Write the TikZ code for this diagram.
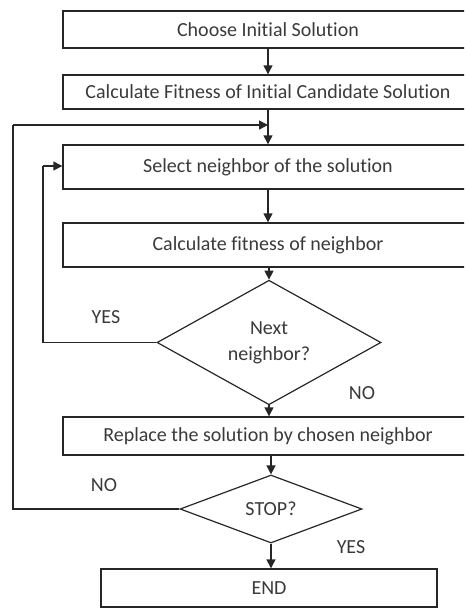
\documentclass[tikz,border=0pt]{standalone}
\usepackage{fontspec}
\setmainfont{Carlito}[Ligatures=NoCommon]
\usetikzlibrary{shapes.geometric,arrows.meta}
\definecolor{txt}{HTML}{3A3A3A}
\definecolor{ln}{HTML}{262626}
\tikzset{
  procbox/.style={draw=ln,line width=1.4pt,minimum width=410pt,inner sep=0pt,text=txt,font=\fontsize{20}{24}\selectfont},
  decide/.style={diamond,draw=ln,line width=1.2pt,inner sep=0pt,text=txt,font=\fontsize{20}{26}\selectfont,align=center},
  flow/.style={draw=ln,line width=1.4pt,-{Triangle[width=9pt,length=9pt]}},
  loopline/.style={draw=ln,line width=1.2pt},
  lbl/.style={text=txt,font=\fontsize{20}{24}\selectfont,inner sep=0pt}
}
\begin{document}
\begin{tikzpicture}[x=1pt,y=-1pt]
\useasboundingbox (0,0) rectangle (464,608);
\clip (0,0) rectangle (464,608);
\node[procbox,minimum height=37pt] (b1) at (268,29.5) {Choose Initial Solution};
\node[procbox,minimum height=34pt] (b2) at (268,92) {Calculate Fitness of Initial Candidate Solution};
\node[procbox,minimum height=44pt] (b3) at (268,167) {Select neighbor of the solution};
\node[procbox,minimum height=44pt] (b4) at (268,245) {Calculate fitness of neighbor};
\node[decide,minimum width=224pt,minimum height=114pt] (d1) at (269,342.5) {Next\\neighbor?};
\node[procbox,minimum height=38pt] (b5) at (268,436) {Replace the solution by chosen neighbor};
\node[decide,minimum width=182pt,minimum height=68pt] (d2) at (271,509) {STOP?};
\node[procbox,minimum width=336pt,minimum height=38pt] (e) at (269,588) {END};
\node[lbl] (y1) at (106,317) {YES};
\node[lbl] (n1) at (362,393) {NO};
\node[lbl] (n2) at (104,485) {NO};
\node[lbl] (y2) at (351,547) {YES};
\coordinate (m) at (268,125);
\coordinate (la) at (43,342.5);
\coordinate (lb) at (43,166);
\coordinate (oa) at (13,509);
\coordinate (ob) at (13,125);
\path[flow] (b1.south) -- (b2.north);
\path[flow] (b2.south) -- (b3.north);
\path[flow] (b3.south) -- (b4.north);
\path[flow] (b4.south -| d1.north) -- (d1.north);
\path[flow] (d1.south) -- (d1.south |- b5.north);
\path[flow] (b5.south -| d2.north) -- (d2.north);
\path[flow] (d2.south) -- (d2.south |- e.north);
\path[loopline] (d1.west) -- (la) -- (lb);
\path[flow] (lb) -- (lb -| b3.west);
\path[loopline] (d2.west) -- (oa) -- (ob);
\path[flow] (ob) -- (m);
\end{tikzpicture}
\end{document}
